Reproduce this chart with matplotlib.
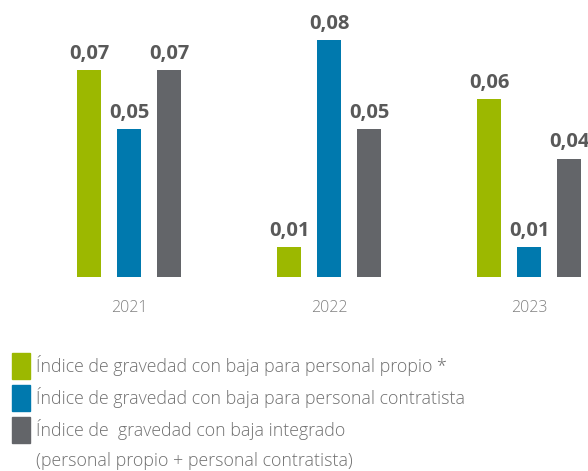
import matplotlib.pyplot as plt
from matplotlib.patches import Rectangle

# Chart data
years = ['2021', '2022', '2023']
propio = [0.07, 0.01, 0.06]
contratista = [0.05, 0.08, 0.01]
integrado = [0.07, 0.05, 0.04]
legend_lines = ['Índice de gravedad con baja para personal propio *',
                'Índice de gravedad con baja para personal contratista',
                'Índice de  gravedad con baja integrado',
                '(personal propio + personal contratista)']
colors = ['#9cb800', '#0079ae', '#636569']

W, H = 588, 471
fig = plt.figure(figsize=(W / 100, H / 100), dpi=100)

# Axes placed so the baseline sits at y=277 px
ax = fig.add_axes([0, (H - 277) / H, 1, 277 / H])
ax.set_xlim(-129 / 200, (W - 129) / 200)
ax.set_ylim(0, 277 / 2962.5)
ax.axis('off')

offsets = [-0.2, 0.0, 0.2]
for series, off, col in zip([propio, contratista, integrado], offsets, colors):
    for i, v in enumerate(series):
        x = i + off
        ax.bar(x, v, width=0.12, color=col)
        ax.annotate('{:.2f}'.format(v).replace('.', ','), (x, v),
                    xytext=(0, 8), textcoords='offset points',
                    ha='center', va='baseline', fontsize=14.5,
                    fontweight='bold', color='#595959', family='Open Sans')

# Year labels
for i, y in enumerate(years):
    ax.annotate(y, (i, 0), xytext=(0, -31), textcoords='offset pixels',
                ha='center', va='center', fontsize=11.5, color='#808080',
                family='Open Sans', fontweight='light')

# Legend drawn by hand
sq_tops = [353, 385, 417]
for top, col in zip(sq_tops, colors):
    fig.patches.append(Rectangle((12 / W, 1 - (top + 26) / H), 18 / W, 26 / H,
                                 transform=fig.transFigure, color=col))

text_y = [365, 397, 429, 461]
for ty, line in zip(text_y, legend_lines):
    fig.text(36 / W, 1 - ty / H, line, ha='left', va='center', fontsize=12.8,
             color='#707070', family='Open Sans', fontweight='light')

fig.savefig('out.png', dpi=100)
